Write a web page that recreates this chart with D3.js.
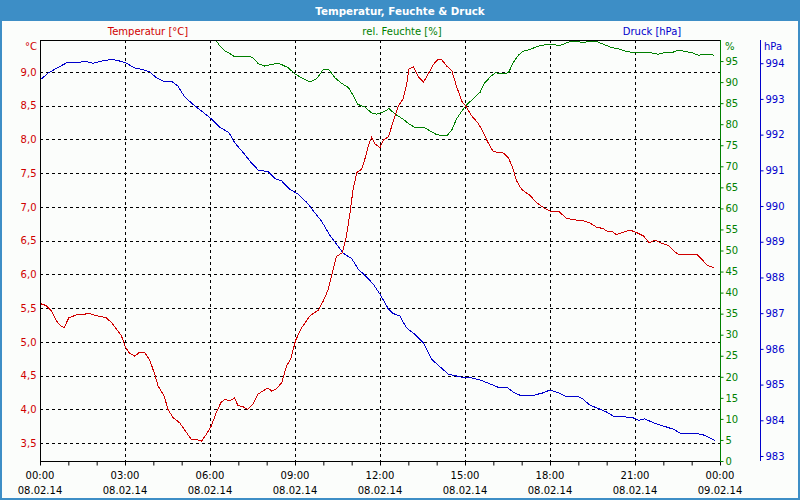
<!DOCTYPE html>
<html><head><meta charset="utf-8">
<script src="https://cdn.jsdelivr.net/npm/d3@7"></script>
<style>body{margin:0;background:#fff}svg{display:block}</style>
</head><body>
<svg id="c" width="800" height="500"></svg>
<script>
// ---- data (minutes after 08.02.14 00:00) ----
const chartTitle = "Temperatur, Feuchte & Druck";
const seriesLabels = ["Temperatur [°C]", "rel. Feuchte [%]", "Druck [hPa]"];
const unitLabels = ["°C", "%", "hPa"];

const tempTimes = [0,13,24,35,44,51,61,77,91,102,119,140,151,162,172,181,190,201,211,222,232,243,250,263,271,282,296,310,320,331,342,352,363,373,383,391,402,412,419,430,440,451,462,476,483,491,501,512,522,532,541,554,572,589,600,610,621,628,640,649,656,663,671,681,688,695,702,710,720,727,738,748,759,769,777,781,791,801,812,822,833,843,851,861,872,882,893,904,914,928,939,949,960,981,992,1002,1009,1020,1038,1052,1069,1080,1098,1115,1133,1154,1165,1179,1193,1203,1211,1221,1232,1249,1264,1278,1290,1302,1317,1331,1345,1355,1376,1391,1401,1412,1427];
const tempValues = [5.57,5.54,5.46,5.31,5.24,5.21,5.36,5.40,5.40,5.43,5.39,5.36,5.29,5.19,5.10,4.92,4.83,4.79,4.85,4.84,4.74,4.52,4.35,4.20,4.00,3.88,3.80,3.66,3.56,3.56,3.53,3.63,3.76,3.95,4.10,4.15,4.13,4.17,4.06,4.04,4.00,4.08,4.23,4.29,4.32,4.27,4.31,4.40,4.64,4.77,5.02,5.21,5.39,5.47,5.61,5.77,6.08,6.27,6.32,6.57,6.89,7.26,7.51,7.56,7.71,7.90,8.03,7.93,7.88,7.99,8.04,8.27,8.50,8.60,8.84,9.04,9.08,8.93,8.85,8.97,9.11,9.19,9.18,9.09,9.02,8.79,8.57,8.47,8.35,8.24,8.10,7.95,7.82,7.80,7.73,7.56,7.39,7.26,7.17,7.06,6.98,6.94,6.94,6.83,6.81,6.79,6.76,6.70,6.68,6.63,6.64,6.59,6.62,6.66,6.62,6.57,6.47,6.51,6.46,6.43,6.33,6.29,6.29,6.30,6.23,6.14,6.10];

const humTimes = [373,381,391,402,412,426,440,451,462,476,491,505,526,540,558,572,586,600,612,625,639,653,664,673,688,702,713,727,739,752,769,780,794,812,826,840,861,872,882,893,904,918,932,942,957,964,978,992,1002,1013,1023,1038,1059,1080,1101,1122,1150,1179,1193,1211,1225,1239,1256,1278,1292,1309,1327,1338,1352,1369,1380,1394,1412,1427];
const humValues = [99.8,98.6,97.4,96.8,96.0,96.0,96.2,95.8,94.4,93.8,94.2,94.5,93.4,91.9,90.8,90.0,90.8,93.0,92.9,91.0,89.7,88.7,86.7,84.7,84.1,82.7,82.4,82.9,83.7,82.4,81.2,80.2,79.2,79.3,78.4,77.5,77.2,78.6,81.2,83.1,84.7,86.1,87.6,89.9,91.6,92.2,92.0,92.2,94.6,96.4,97.3,97.8,98.7,99.0,98.7,99.6,99.5,99.6,99.0,98.2,97.9,97.4,97.0,97.0,97.0,96.6,97.1,97.0,97.6,97.2,97.0,96.4,96.6,96.4];

const presTimes = [0,17,38,59,80,95,112,130,152,169,183,200,218,232,246,263,278,292,306,324,342,362,381,400,412,430,447,462,483,498,512,529,547,565,579,596,614,628,642,660,674,688,706,720,738,748,762,776,794,812,829,847,865,882,900,914,932,949,971,988,1002,1020,1045,1066,1080,1098,1115,1137,1150,1165,1186,1200,1214,1235,1256,1267,1281,1299,1320,1341,1359,1376,1401,1415,1429];
const presValues = [993.53,993.72,993.88,994.03,994.01,994.06,994.00,994.06,994.11,994.06,994.00,993.87,993.82,993.76,993.60,993.48,993.50,993.36,993.06,992.85,992.66,992.45,992.20,992.06,991.78,991.50,991.22,991.01,990.96,990.77,990.70,990.47,990.33,990.10,989.86,989.58,989.18,988.93,988.68,988.53,988.23,988.06,987.81,987.53,987.11,986.99,986.92,986.59,986.41,986.16,985.71,985.50,985.29,985.24,985.19,985.19,985.13,985.04,984.92,984.93,984.79,984.68,984.70,984.77,984.85,984.77,984.66,984.68,984.59,984.42,984.31,984.23,984.12,984.10,984.07,984.00,984.04,983.93,983.84,983.75,983.62,983.64,983.61,983.53,983.44];

const tempTicks = [3.5,4.0,4.5,5.0,5.5,6.0,6.5,7.0,7.5,8.0,8.5,9.0];
const humTicks = [0,5,10,15,20,25,30,35,40,45,50,55,60,65,70,75,80,85,90,95];
const presTicks = [983,984,985,986,987,988,989,990,991,992,993,994];
const xTickTimes = ["00:00","03:00","06:00","09:00","12:00","15:00","18:00","21:00","00:00"];
const xTickDates = ["08.02.14","08.02.14","08.02.14","08.02.14","08.02.14","08.02.14","08.02.14","08.02.14","09.02.14"];

// ---- layout ----
const L = 40, R = 720, T = 40, B = 461, PX = 760;
const RED = "#d00000", GREEN = "#008000", BLUE = "#0000cc";
const FONT = "DejaVu Sans, Verdana, sans-serif";
const t0 = new Date(2014, 1, 8, 0, 0);
const tm = m => new Date(t0.getTime() + m * 60000);

const svg = d3.select("#c");
svg.append("rect").attr("width", 800).attr("height", 500).attr("fill", "#3d8ec6");
svg.append("rect").attr("x", 2).attr("y", 21).attr("width", 796).attr("height", 477).attr("fill", "#fbfdfb");
svg.append("text").attr("x", 400).attr("y", 14.5).attr("text-anchor", "middle")
  .attr("fill", "#fff").attr("font-family", FONT).attr("font-weight", "bold").attr("font-size", 10.3)
  .text(chartTitle);

const x = d3.scaleTime().domain([t0, tm(1440)]).range([L, R]);
const yT = d3.scaleLinear().domain([3.237, 9.474]).range([B, T]);
const yH = d3.scaleLinear().domain([0, 100]).range([B, T]);
const yP = d3.scaleLinear().domain([982.86, 994.65]).range([B, T]);

// grid
const grid = svg.append("g").attr("stroke", "#000").attr("stroke-dasharray", "3,3").attr("shape-rendering", "crispEdges");
tempTicks.forEach(v => {
  const y = Math.round(yT(v)) + 0.5;
  grid.append("line").attr("x1", L).attr("x2", R).attr("y1", y).attr("y2", y);
});
for (let h = 3; h < 24; h += 3) {
  const xx = Math.round(x(tm(h * 60))) + 0.5;
  grid.append("line").attr("x1", xx).attr("x2", xx).attr("y1", T).attr("y2", B);
}

// series
svg.append("clipPath").attr("id", "clip").append("rect").attr("x", L).attr("y", T).attr("width", R - L).attr("height", B - T);
const plot = svg.append("g").attr("clip-path", "url(#clip)");
function series(times, vals, yS, color) {
  const data = times.map((m, i) => [tm(m), vals[i]]);
  plot.append("path").datum(data)
    .attr("d", d3.line().x(d => x(d[0])).y(d => yS(d[1])))
    .attr("fill", "none").attr("stroke", color).attr("stroke-width", 1)
    .attr("shape-rendering", "crispEdges");
}
series(presTimes, presValues, yP, BLUE);
series(humTimes, humValues, yH, GREEN);
series(tempTimes, tempValues, yT, RED);

// frame
svg.append("line").attr("x1", L).attr("x2", R).attr("y1", T + 0.5).attr("y2", T + 0.5).attr("stroke", "#000").attr("shape-rendering", "crispEdges");

// left axis (temperature)
const ax = svg.append("g").attr("transform", `translate(${L + 0.5},0)`)
  .call(d3.axisLeft(yT).tickValues(tempTicks).tickSize(0).tickPadding(4)
    .tickFormat(d => d.toFixed(1).replace(".", ",")));
ax.select(".domain").attr("stroke", "#000").attr("d", `M0,${T}V${B}`);
ax.selectAll("text").attr("fill", RED).attr("font-family", FONT).attr("font-size", 10);

// bottom axis
const bx = svg.append("g").attr("transform", `translate(0,${B + 0.5})`)
  .call(d3.axisBottom(x).tickValues(d3.range(0, 25).map(h => tm(h * 60))).tickSize(4).tickFormat(""));
bx.select(".domain").attr("stroke", "#000").attr("d", `M${L},0H${R}`);
bx.selectAll(".tick line").attr("stroke", "#000");
const lbl = svg.append("g").attr("font-family", FONT).attr("font-size", 10).attr("fill", "#000").attr("text-anchor", "middle");
xTickTimes.forEach((s, i) => {
  const xx = x(tm(i * 180));
  lbl.append("text").attr("x", xx).attr("y", 478.5).text(s);
  lbl.append("text").attr("x", xx).attr("y", 494).text(xTickDates[i]);
});

// right axis humidity
const hx = svg.append("g").attr("transform", `translate(${R + 0.5},0)`)
  .call(d3.axisRight(yH).tickValues(humTicks).tickSize(3).tickPadding(2));
hx.select(".domain").attr("stroke", GREEN).attr("d", `M0,${T}V${B + 1}`);
hx.selectAll(".tick line").attr("stroke", GREEN);
hx.selectAll("text").attr("fill", GREEN).attr("font-family", FONT).attr("font-size", 10);

// right axis pressure
const px = svg.append("g").attr("transform", `translate(${PX + 0.5},0)`)
  .call(d3.axisRight(yP).tickValues(presTicks).tickSize(3).tickPadding(2));
px.select(".domain").attr("stroke", BLUE).attr("d", `M0,${T}V${B}`);
px.selectAll(".tick line").attr("stroke", BLUE);
px.selectAll("text").attr("fill", BLUE).attr("font-family", FONT).attr("font-size", 10);

// series titles and units
const st = svg.append("g").attr("font-family", FONT).attr("font-size", 10).attr("text-anchor", "middle");
st.append("text").attr("x", 148).attr("y", 35).attr("fill", RED).text(seriesLabels[0]);
st.append("text").attr("x", 402).attr("y", 35).attr("fill", GREEN).text(seriesLabels[1]);
st.append("text").attr("x", 652).attr("y", 35).attr("fill", BLUE).text(seriesLabels[2]);
const ut = svg.append("g").attr("font-family", FONT).attr("font-size", 10);
ut.append("text").attr("x", 37).attr("y", 50).attr("text-anchor", "end").attr("fill", RED).text(unitLabels[0]);
ut.append("text").attr("x", 725).attr("y", 50).attr("fill", GREEN).text(unitLabels[1]);
ut.append("text").attr("x", 764).attr("y", 50).attr("fill", BLUE).text(unitLabels[2]);
</script>
</body></html>
